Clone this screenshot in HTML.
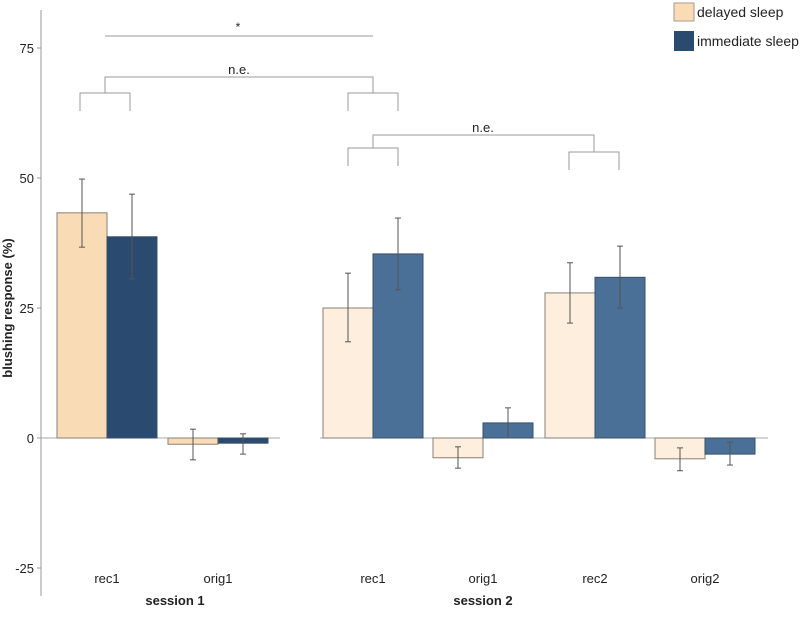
<!DOCTYPE html>
<html><head><meta charset="utf-8"><style>
body{margin:0;background:#fff}
svg text{font-family:"Liberation Sans",sans-serif;fill:#222}
</style></head><body>
<svg id="chart" width="800" height="632" viewBox="0 0 800 632" xmlns="http://www.w3.org/2000/svg">
<g id="axes"></g>
<g id="bars"></g>
<g id="brackets" stroke="#999" fill="none" stroke-width="1">
  <line x1="105" y1="36" x2="373" y2="36"/>
  <path d="M105 93 V77 H373 V93"/>
  <path d="M80 111 V93 H130 V111"/>
  <path d="M348 111 V93 H398 V111"/>
  <path d="M373 148 V135 H594 V152"/>
  <path d="M348 166 V148 H398 V166"/>
  <path d="M569 170 V152 H619 V170"/>
</g>
<text x="238" y="31" font-size="12" text-anchor="middle">*</text>
<text x="239" y="74" font-size="13" text-anchor="middle">n.e.</text>
<text x="483" y="132" font-size="13" text-anchor="middle">n.e.</text>
<g>
  <rect x="674" y="3" width="20" height="18" fill="#f9dcb5" stroke="#a89a88"/>
  <text x="697" y="17" font-size="14">delayed sleep</text>
  <rect x="674" y="31" width="20" height="20" fill="#2a4a70"/>
  <text x="697" y="46" font-size="14">immediate sleep</text>
</g>
<text transform="translate(12,308) rotate(-90)" font-size="13" font-weight="bold" text-anchor="middle">blushing response (%)</text>
<text x="175" y="605" font-size="13" font-weight="bold" text-anchor="middle">session 1</text>
<text x="483" y="605" font-size="13" font-weight="bold" text-anchor="middle">session 2</text>
</svg>
<script>
const categories = ["rec1","orig1","rec1","orig1","rec2","orig2"];
const session = [1,1,2,2,2,2];
const delayed = [43.3,-1.2,25.0,-3.8,27.9,-4.0];
const delayedHi = [49.8,1.7,31.7,-1.7,33.7,-1.9];
const delayedLo = [36.7,-4.2,18.5,-5.8,22.1,-6.3];
const immediate = [38.7,-1.0,35.4,2.9,30.9,-3.1];
const immediateHi = [46.9,0.8,42.3,5.8,36.9,-0.8];
const immediateLo = [30.6,-3.1,28.5,0.0,25.0,-5.2];
const yTicks = [75,50,25,0,-25];

const NS="http://www.w3.org/2000/svg";
function y(v){return 438 - v*5.2;}
const groupLeft=[57,168,323,433,545,655];
function x(i){return groupLeft[i];}
const BW=50;
function mk(tag,attrs,parent){const e=document.createElementNS(NS,tag);for(const k in attrs)e.setAttribute(k,attrs[k]);parent.appendChild(e);return e;}

const axes=document.getElementById('axes');
const ax=mk('line',{x1:41,y1:10,x2:41,y2:596,stroke:'#999'},axes);


yTicks.forEach(t=>{
  const tl=mk('line',{x1:37,y1:y(t),x2:41,y2:y(t),stroke:'#999'},axes);
  
  
  const tx=mk('text',{x:34,y:y(t)+5,'font-size':13,'text-anchor':'end'},axes);
  tx.textContent=t;
  
  
});
const bars=document.getElementById('bars');
const z1=mk('line',{x1:41,y1:y(0),x2:280,y2:y(0),stroke:'#aaa'},bars);


const z2=mk('line',{x1:320,y1:y(0),x2:768,y2:y(0),stroke:'#aaa'},bars);



function bar(xl,v,fill,stroke,name){
  const top=Math.min(y(v),y(0)),h=Math.abs(y(v)-y(0));
  const r=mk('rect',{x:xl,y:top,width:BW,height:h,fill:fill,stroke:stroke,'stroke-width':1},bars);
  
  
}
function err(cx,hi,lo,name){
  const g=mk('g',{stroke:'#555','stroke-width':1},bars);
  
  
  mk('line',{x1:cx,y1:y(hi),x2:cx,y2:y(lo)},g);
  mk('line',{x1:cx-3,y1:y(hi),x2:cx+3,y2:y(hi)},g);
  mk('line',{x1:cx-3,y1:y(lo),x2:cx+3,y2:y(lo)},g);
}
categories.forEach((c,i)=>{
  const s1=session[i]===1;
  const dFill=s1?'#f9dcb5':'#fdeedd', iFill=s1?'#2a4a70':'#4b7098';
  const xl=x(i);
  bar(xl,delayed[i],dFill,'#8a7f74','bar-delayed-'+c+'-s'+session[i]);
  bar(xl+BW,immediate[i],iFill,'#3a4f66','bar-immediate-'+c+'-s'+session[i]);
  err(xl+BW/2,delayedHi[i],delayedLo[i],'error-bar-delayed');
  err(xl+BW*1.5,immediateHi[i],immediateLo[i],'error-bar-immediate');
  const t=mk('text',{x:xl+BW,y:583,'font-size':13,'text-anchor':'middle'},bars);
  t.textContent=c;
  
  
});
</script>
</body></html>
